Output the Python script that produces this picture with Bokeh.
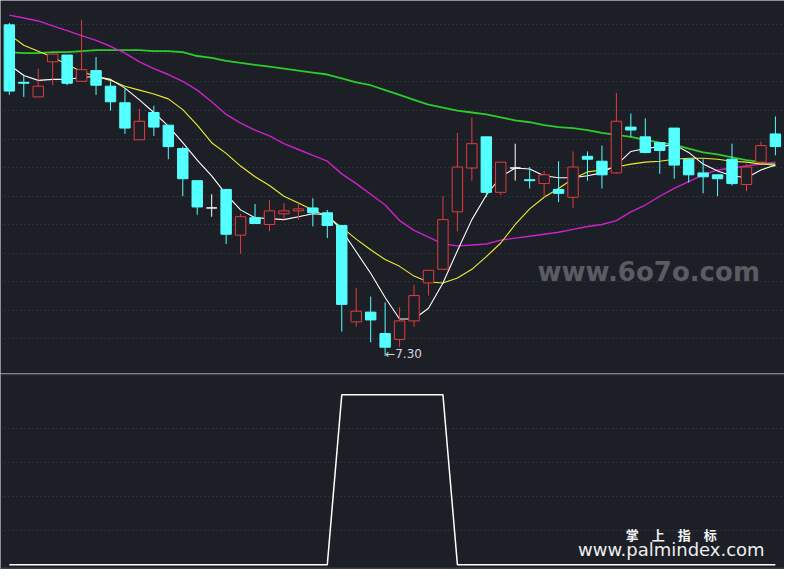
import numpy as np
from bokeh.plotting import figure
from bokeh.layouts import column
from bokeh.models import Range1d, Grid, FixedTicker, Span, Label, ColumnDataSource
from bokeh.embed import file_html
from bokeh.resources import INLINE
from bokeh.core.properties import value

# ---------------- data ----------------
open_ = [10.70, 10.11, 9.96, 10.32, 10.39, 10.12, 10.23, 10.07, 9.90, 9.52,
         9.80, 9.67, 9.43, 9.10, 8.82, 9.01, 8.54, 8.72, 8.65, 8.76,
         8.79, 8.82, 8.77, 8.64, 7.65, 7.75, 7.53, 7.47, 7.66, 8.05,
         8.19, 8.78, 9.23, 9.55, 8.98, 9.23, 9.11, 9.07, 9.01, 8.93,
         9.35, 9.30, 9.18, 9.65, 9.55, 9.49, 9.64, 9.32, 9.18, 9.16,
         9.32, 9.06, 9.29, 9.58]
close = [10.02, 10.10, 10.07, 10.40, 10.10, 10.24, 10.08, 9.91, 9.64, 9.71,
         9.65, 9.45, 9.12, 8.83, 8.82, 8.55, 8.73, 8.66, 8.79, 8.79,
         8.81, 8.77, 8.64, 7.83, 7.76, 7.67, 7.39, 7.66, 7.92, 8.18,
         8.70, 9.24, 9.48, 8.98, 9.29, 9.23, 9.10, 9.16, 8.97, 9.24,
         9.32, 9.16, 9.71, 9.62, 9.39, 9.41, 9.26, 9.16, 9.14, 9.12,
         9.07, 9.24, 9.46, 9.45]
high = [10.72, 10.19, 10.25, 10.41, 10.39, 10.75, 10.37, 10.12, 10.05, 9.84,
        9.87, 9.67, 9.45, 9.10, 8.96, 9.01, 8.76, 8.86, 8.90, 8.87,
        8.87, 8.92, 8.80, 8.64, 8.00, 7.91, 7.85, 7.80, 8.03, 8.18,
        8.94, 9.59, 9.75, 9.55, 9.29, 9.48, 9.24, 9.20, 9.30, 9.40,
        9.40, 9.46, 10.00, 9.79, 9.74, 9.49, 9.64, 9.32, 9.32, 9.16,
        9.48, 9.27, 9.50, 9.76]
low = [9.98, 9.96, 9.96, 10.08, 10.08, 10.12, 9.98, 9.82, 9.58, 9.52,
       9.56, 9.32, 8.94, 8.75, 8.73, 8.45, 8.35, 8.66, 8.58, 8.70,
       8.70, 8.63, 8.51, 7.55, 7.60, 7.44, 7.30, 7.39, 7.60, 7.92,
       8.19, 8.58, 9.10, 8.93, 8.95, 9.10, 9.02, 8.93, 8.88, 8.82,
       9.10, 9.02, 9.17, 9.55, 9.38, 9.17, 9.12, 9.08, 8.97, 8.94,
       9.05, 8.99, 9.29, 9.36]

ma5 = [10.29, 10.18, 10.13, 10.14, 10.14, 10.16, 10.17, 10.14, 10.05, 9.93,
       9.80, 9.66, 9.49, 9.31, 9.15, 8.96, 8.80, 8.72, 8.71, 8.70,
       8.73, 8.76, 8.75, 8.59, 8.37, 8.15, 7.90, 7.68, 7.68, 7.79,
       8.05, 8.38, 8.70, 8.95, 9.14, 9.23, 9.22, 9.15, 9.13, 9.13,
       9.15, 9.18, 9.26, 9.40, 9.43, 9.45, 9.47, 9.39, 9.27, 9.20,
       9.15, 9.13, 9.21, 9.26]
ma10 = [10.60, 10.49, 10.43, 10.37, 10.29, 10.22, 10.17, 10.13, 10.07, 10.03,
        9.99, 9.94, 9.83, 9.67, 9.49, 9.38, 9.25, 9.14, 9.05, 8.94,
        8.87, 8.80, 8.73, 8.62, 8.50, 8.39, 8.29, 8.22, 8.12, 8.06,
        8.05, 8.10, 8.19, 8.32, 8.46, 8.65, 8.81, 8.93, 9.02, 9.12,
        9.19, 9.21, 9.24, 9.27, 9.29, 9.30, 9.32, 9.33, 9.33, 9.32,
        9.30, 9.29, 9.27, 9.27]
ma20 = [10.80, 10.77, 10.74, 10.69, 10.64, 10.59, 10.54, 10.48, 10.41, 10.32,
        10.25, 10.19, 10.12, 10.03, 9.91, 9.78, 9.69, 9.62, 9.56, 9.48,
        9.42, 9.36, 9.30, 9.17, 9.07, 8.96, 8.85, 8.69, 8.59, 8.52,
        8.45, 8.43, 8.44, 8.45, 8.49, 8.51, 8.53, 8.55, 8.57, 8.60,
        8.63, 8.65, 8.69, 8.78, 8.85, 8.94, 9.02, 9.09, 9.16, 9.21,
        9.23, 9.25, 9.27, 9.29]
ma60 = [10.42, 10.41, 10.41, 10.42, 10.42, 10.43, 10.44, 10.44, 10.44, 10.44,
        10.43, 10.43, 10.42, 10.38, 10.36, 10.33, 10.31, 10.29, 10.27, 10.25,
        10.23, 10.21, 10.19, 10.15, 10.11, 10.08, 10.03, 9.98, 9.93, 9.88,
        9.85, 9.82, 9.80, 9.78, 9.75, 9.72, 9.70, 9.67, 9.65, 9.64,
        9.62, 9.59, 9.57, 9.55, 9.52, 9.49, 9.47, 9.43, 9.39, 9.37,
        9.34, 9.31, 9.29, 9.25]
signal = [0, 0, 0, 0, 0, 0, 0, 0, 0, 0,
          0, 0, 0, 0, 0, 0, 0, 0, 0, 0,
          0, 0, 0, 1, 1, 1, 1, 1, 1, 1,
          1, 0, 0, 0, 0, 0, 0, 0, 0, 0,
          0, 0, 0, 0, 0, 0, 0, 0, 0, 0,
          0, 0, 0, 0]

# ---------------- styles ----------------
BG = "#1d1f27"
GRID = "#41444f"
UP = "#e23c3c"
DOWN = "#54ffff"
FLAT = "#ffffff"
W = 784
H_TOP = 373
H_BOT = 196
HALF = 0.36

n = len(open_)
x = np.arange(n)
o = np.array(open_); c = np.array(close); h = np.array(high); l = np.array(low)

up = c > o
dn = c < o
fl = c == o

def make_fig(height, yr):
    f = figure(width=W, height=height, x_range=Range1d(-0.61, 53.63), y_range=yr,
               x_axis_type=None, y_axis_type=None, output_backend="svg",
               toolbar_location=None, min_border=0,
               background_fill_color=BG, border_fill_color=BG,
               outline_line_color=None)
    return f

p = make_fig(H_TOP, Range1d(7.12, 10.95))
p.add_layout(Grid(dimension=1, ticker=FixedTicker(ticks=list(np.linspace(10.70, 7.475, 12))),
                  grid_line_color=GRID, grid_line_dash="1 3", grid_line_width=1))

# moving averages under candles
p.line(x, ma60, line_color="#2ccc2c", line_width=1.8)
p.line(x, ma20, line_color="#cc22cc", line_width=1.4)
p.line(x, ma10, line_color="#eded30", line_width=1.1)
p.line(x, ma5, line_color="#ffffff", line_width=1.1)

for mask, col, fill in ((up, UP, BG), (dn, DOWN, DOWN), (fl, FLAT, FLAT)):
    src = ColumnDataSource(dict(x=x[mask], h=h[mask], l=l[mask],
                                top=np.maximum(o, c)[mask], bot=np.minimum(o, c)[mask]))
    p.segment(x0="x", y0="h", x1="x", y1="l", source=src, line_color=col, line_width=1)
    src2 = ColumnDataSource(dict(left=x[mask] - HALF, right=x[mask] + HALF,
                                 top=np.maximum(o, c)[mask], bot=np.minimum(o, c)[mask]))
    p.quad(left="left", right="right", top="top", bottom="bot", source=src2,
           fill_color=fill, line_color=col, line_width=1)

imin = int(np.argmin(l))
p.text(x=[imin], y=[l[imin]], text=["\u2190%.2f" % l[imin]],
       text_font=value("DejaVu Sans"), text_font_size="12px", text_color="#d6d6d6",
       text_align="left", text_baseline="middle", y_offset=-2)

p.add_layout(Label(x=44.24, y=8.16, text="www.6o7o.com", text_font="DejaVu Sans",
                   text_font_style="bold", text_font_size="26px", text_color="#5a5c62",
                   text_align="center", text_baseline="alphabetic"))

# ---------------- lower panel ----------------
q = make_fig(H_BOT, Range1d(-0.0286, 1.1257))
q.add_layout(Grid(dimension=1, ticker=FixedTicker(ticks=[0.2, 0.4, 0.6, 0.8]),
                  grid_line_color=GRID, grid_line_dash="1 3", grid_line_width=1))
q.add_layout(Span(location=1.12, dimension="width", line_color="#3b3e4b", line_width=1.5))
q.add_layout(Span(location=-0.022, dimension="width", line_color="#3b3e4b", line_width=2))
q.line(x, signal, line_color="#ffffff", line_width=1.5)

q.add_layout(Label(x=45.8, y=0.178, text="掌\u3000上\u3000指\u3000标",
                   text_font="Noto Sans CJK SC", text_font_style="bold",
                   text_font_size="13px", text_color="#f2f2f2",
                   text_align="center", text_baseline="alphabetic"))
q.add_layout(Label(x=45.8, y=0.088, text="www.palmindex.com", text_font="DejaVu Sans",
                   text_font_size="18px", text_color="#eeeeee",
                   text_align="center", text_baseline="alphabetic"))

layout = column(p, q, spacing=0)
open("out.html", "w").write(file_html(layout, INLINE))
